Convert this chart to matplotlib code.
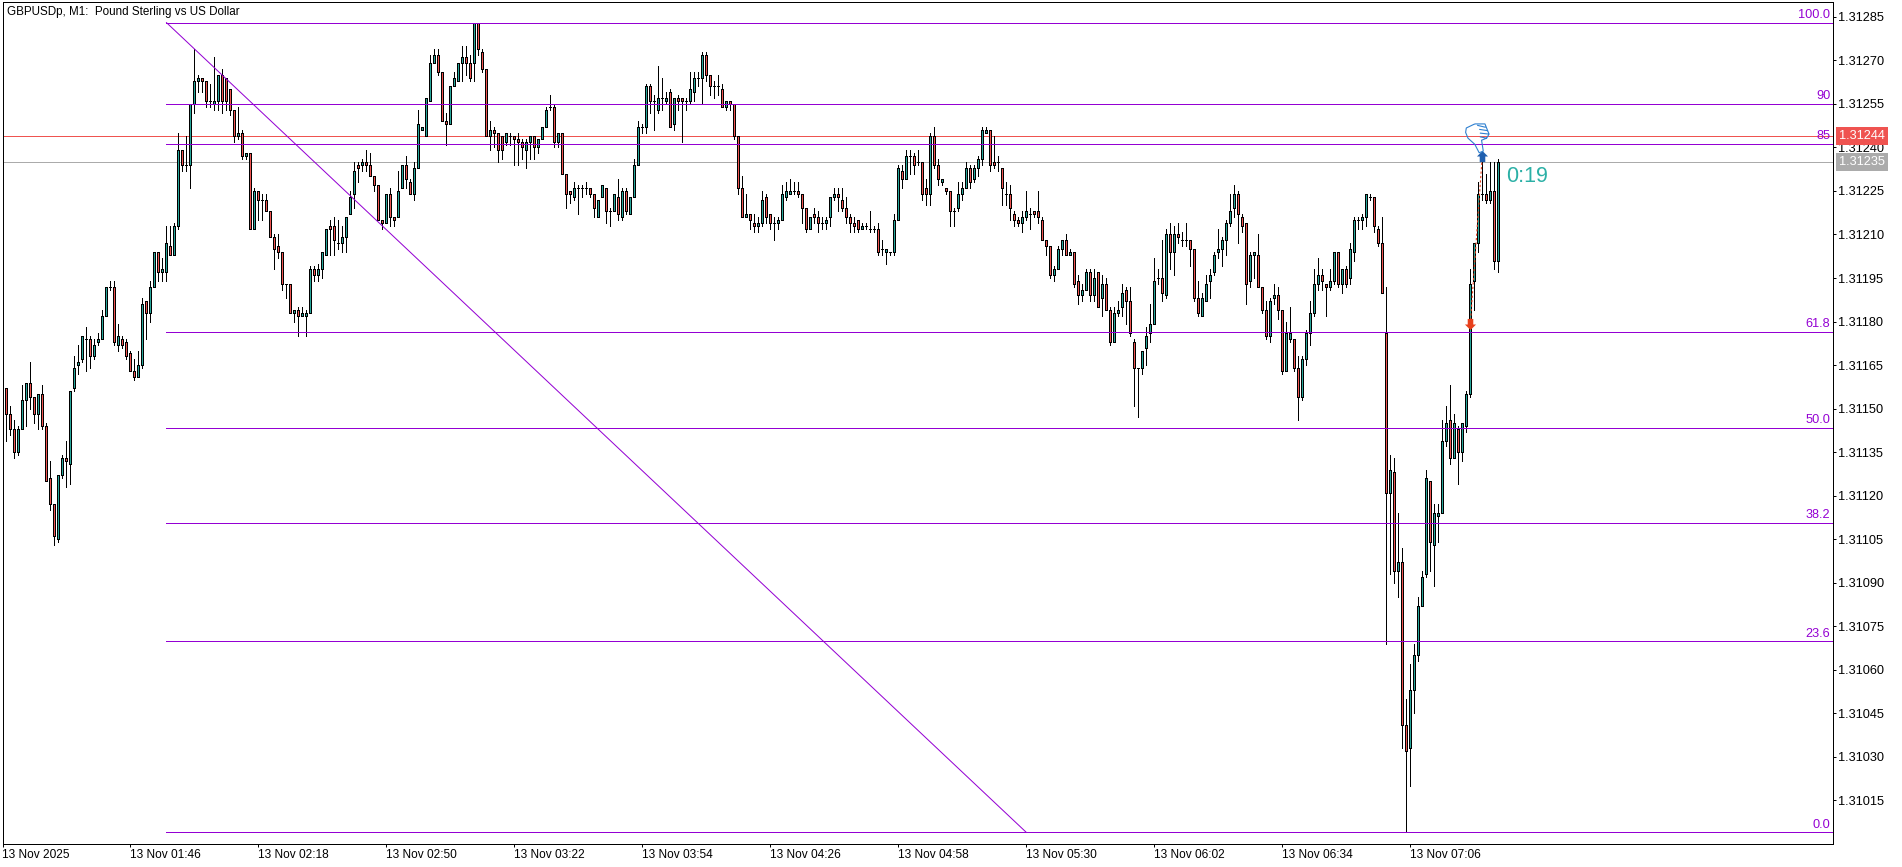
import numpy as np
import matplotlib
matplotlib.use('Agg')
import matplotlib.pyplot as plt
from matplotlib.path import Path

plt.rcParams['font.family'] = ['Liberation Sans', 'DejaVu Sans']
# the terminal draws everything without smoothing
plt.rcParams['lines.antialiased'] = False
plt.rcParams['patch.antialiased'] = False

# M1 candles, in points above 1.31000 (row = 10 bars)
opens = [158,157,148,143,135,143,153,159,154,148,
    155,144,126,117,105,127,133,131,157,165,
    167,174,174,168,173,174,182,192,192,172,
    174,173,169,163,161,165,187,183,192,204,
    197,197,206,203,213,239,234,234,255,263,
    264,263,256,255,256,265,264,260,253,244,
    245,237,238,212,225,222,222,218,209,206,
    204,193,193,183,184,182,182,183,198,196,
    198,203,213,213,207,207,209,217,224,234,
    234,235,234,230,227,215,214,224,216,216,
    226,234,228,224,233,246,244,256,269,272,
    266,249,248,261,263,269,271,269,269,283,
    273,267,244,246,245,244,242,244,244,243,
    242,239,242,244,240,243,247,254,254,242,
    245,231,225,223,226,226,226,226,224,216,
    223,226,218,218,223,216,225,217,223,234,
    247,247,261,256,253,257,256,259,248,257,
    257,256,256,259,264,264,272,265,261,261,
    260,254,256,255,244,226,216,217,214,213,
    214,223,217,214,214,215,223,224,225,225,
    224,219,212,217,216,214,214,216,223,224,
    222,219,216,214,215,212,213,212,212,212,
    205,204,204,204,215,232,229,237,237,235,
    235,226,224,244,234,228,226,225,218,219,
    224,226,233,229,233,236,245,246,235,235,
    233,224,224,217,215,214,216,217,218,218,
    215,208,206,196,198,205,208,203,204,194,
    189,191,197,189,197,188,193,184,173,183,
    185,191,187,173,164,164,171,176,179,195,
    195,189,210,204,210,208,208,208,205,188,
    182,187,194,197,204,205,208,214,219,224,
    216,214,194,203,203,192,184,175,188,189,
    184,163,174,174,164,154,167,176,183,193,
    196,193,192,194,204,193,198,195,204,215,
    215,216,223,223,212,207,176,121,128,94,
    97,41,33,53,65,82,93,125,103,113,
    114,139,146,133,143,135,144,155,194,207,
    224,224,222,225,201]
highs = [163,157,151,146,144,158,159,166,154,155,
    158,145,132,117,127,134,139,156,168,172,
    175,178,175,174,176,184,192,194,194,179,
    175,174,170,167,170,188,187,194,204,204,
    202,213,213,214,245,239,244,255,274,265,
    264,263,262,271,265,267,264,260,253,254,
    246,238,238,226,225,224,224,218,210,210,
    204,193,193,184,185,185,184,199,199,200,
    204,212,215,216,215,213,216,225,235,235,
    236,239,238,230,227,215,224,226,216,232,
    234,237,229,235,253,247,257,272,274,274,
    266,252,261,266,269,275,275,272,283,283,
    274,267,249,247,245,244,245,245,244,245,
    243,243,244,244,243,247,254,258,255,245,
    245,231,225,228,227,227,228,226,224,222,
    227,226,219,224,229,226,226,223,236,249,
    248,262,262,258,268,264,259,260,257,258,
    257,257,266,266,266,273,273,265,263,265,
    262,256,256,255,244,230,224,217,217,216,
    225,224,217,216,216,227,228,229,228,228,
    224,219,216,219,218,216,216,223,226,226,
    226,223,217,216,215,214,214,218,213,214,
    208,205,204,217,234,234,239,239,238,239,
    235,229,245,247,236,229,226,225,219,228,
    228,235,234,234,237,247,247,246,244,237,
    233,228,227,218,216,218,225,219,218,225,
    216,208,206,199,206,208,210,205,204,196,
    193,198,198,198,197,196,195,185,185,187,
    193,192,192,174,164,170,178,186,202,198,
    208,212,214,213,214,211,214,208,205,194,
    190,196,198,204,212,209,215,224,227,225,
    217,214,204,204,210,192,187,188,193,192,
    184,180,185,174,168,168,177,187,198,202,
    198,193,198,204,204,198,199,207,216,216,
    217,224,224,223,213,216,192,134,133,114,
    102,50,62,69,85,94,129,125,117,117,
    146,151,158,148,144,145,156,198,207,228,
    236,231,235,235,236]
lows = [158,139,141,133,134,143,144,150,145,143,
    143,125,115,103,104,126,123,124,156,162,
    166,163,164,167,172,174,182,191,172,170,
    171,167,163,160,161,164,174,180,192,194,
    194,194,203,203,212,232,232,226,252,259,
    259,254,254,253,253,252,253,251,242,243,
    236,236,212,212,215,215,218,209,198,202,
    191,188,183,180,175,182,175,183,194,194,
    195,203,203,203,205,204,204,217,219,228,
    232,232,230,225,215,212,214,213,213,216,
    226,226,224,222,233,246,244,256,269,265,
    249,241,248,261,263,263,265,263,263,272,
    266,244,239,240,235,236,241,241,234,234,
    236,233,236,236,238,243,247,253,240,240,
    231,219,221,222,217,223,224,223,216,216,
    223,214,213,218,215,215,217,217,223,234,
    245,245,252,246,252,253,255,247,246,253,
    242,253,255,256,261,255,263,258,257,258,
    254,253,253,243,224,216,216,212,211,211,
    213,214,212,208,212,215,222,224,224,223,
    214,211,212,214,211,212,212,213,222,218,
    218,214,211,211,211,212,212,211,211,203,
    203,200,203,203,215,226,229,231,231,234,
    222,220,220,233,227,227,224,213,213,218,
    222,226,226,228,230,234,245,232,233,232,
    220,220,215,213,213,211,215,212,216,214,
    208,203,195,194,198,203,203,203,192,186,
    187,191,187,187,185,182,184,172,173,182,
    182,179,175,151,147,162,165,173,179,193,
    187,188,198,196,207,206,206,199,187,182,
    182,187,188,196,202,199,203,213,216,207,
    211,186,192,195,192,183,174,173,186,181,
    162,163,173,163,146,153,165,172,182,191,
    191,182,191,193,192,190,192,193,201,212,
    212,213,222,211,206,190,69,93,90,85,
    33,4,20,45,63,82,92,94,89,104,
    114,137,131,133,124,132,142,154,184,204,
    222,221,221,198,197]
closes = [163,148,143,135,143,153,159,154,148,155,
    144,125,117,106,127,133,132,156,164,166,
    175,174,168,172,174,182,192,192,173,175,
    172,168,163,161,165,186,183,192,204,197,
    198,207,203,213,239,234,234,255,263,264,
    263,256,256,256,265,256,256,253,244,245,
    237,238,212,225,222,222,218,209,205,204,
    193,193,183,184,182,183,183,198,196,198,
    204,212,212,208,207,209,216,223,232,233,
    235,234,230,227,215,214,224,216,215,225,
    234,229,224,233,248,247,257,269,272,266,
    249,248,261,264,269,271,269,264,283,274,
    267,244,246,245,239,239,245,244,243,242,
    240,242,244,240,243,247,253,254,242,245,
    231,224,224,226,226,226,226,224,219,222,
    227,218,218,224,217,225,218,223,234,247,
    247,261,256,256,257,257,257,247,257,256,
    256,256,260,264,264,272,265,261,261,261,
    254,256,255,244,226,216,217,215,213,214,
    222,216,214,214,215,224,225,225,225,224,
    219,212,216,216,214,214,215,223,224,223,
    219,216,214,213,212,213,213,212,212,204,
    205,205,204,215,233,229,237,237,234,235,
    224,224,244,234,229,229,225,218,218,224,
    226,233,228,233,236,246,246,234,234,235,
    226,224,219,215,214,216,218,217,217,216,
    208,206,196,198,205,208,203,204,193,189,
    191,197,189,195,185,193,184,173,183,184,
    190,187,176,164,164,170,175,179,194,195,
    190,210,204,210,209,208,208,205,188,183,
    188,193,196,203,205,208,214,218,224,217,
    213,193,203,204,192,184,175,187,189,184,
    163,176,176,164,154,167,176,183,193,196,
    194,192,194,204,193,198,193,205,215,215,
    216,224,223,213,207,190,121,129,94,97,
    41,32,53,65,82,92,126,104,114,114,
    139,145,133,145,135,145,155,193,207,224,
    224,222,225,201,235]

price_ticks = [1.31015, 1.31030, 1.31045, 1.31060, 1.31075, 1.31090, 1.31105,
    1.31120, 1.31135, 1.31150, 1.31165, 1.31180, 1.31195, 1.31210, 1.31225,
    1.31240, 1.31255, 1.31270, 1.31285]
time_tick_bars = [0, 32, 64, 96, 128, 160, 192, 224, 256, 288, 320, 352]
time_labels = ['13 Nov 2025', '13 Nov 01:46', '13 Nov 02:18', '13 Nov 02:50',
    '13 Nov 03:22', '13 Nov 03:54', '13 Nov 04:26', '13 Nov 04:58',
    '13 Nov 05:30', '13 Nov 06:02', '13 Nov 06:34', '13 Nov 07:06']

# fibonacci tool
fib_low = 1.31004
fib_high = 1.31283
fib_levels = [0, 23.6, 38.2, 50, 61.8, 85, 90, 100]
fib_labels = ['0.0', '23.6', '38.2', '50.0', '61.8', '85', '90', '100.0']
fib_start_bar = 41
fib_end_bar = 256

ask_price = 1.31244
bid_price = 1.31235
signal_bars = [367, 370]
signal_prices = [1.31179, 1.31237]

UP_COLOR = '#26A69A'
DOWN_COLOR = '#EF5350'
FIB_COLOR = '#9400D3'
GREY = '#ABABAB'
W, H = 1902, 867
PX = 0.72  # one pixel in points at dpi 100

to_price = lambda pts: 1.31 + np.array(pts) * 1e-5
o, h, l, c = to_price(opens), to_price(highs), to_price(lows), to_price(closes)
bars = np.arange(len(o))
up = c >= o

fig = plt.figure(figsize=(W / 100, H / 100), dpi=100, facecolor='white')
ax = fig.add_axes([2.5 / W, 1 - 844 / H, (1833 - 2.5) / W, (844 - 2.3) / H])
ax.set_xlim(0.05, 457.7)
ax.set_ylim(1.31000, 1.31290)
for s in ax.spines.values():
    s.set_linewidth(PX)

# horizontal price lines sit under the candles
ax.axhline(ask_price, color=DOWN_COLOR, lw=PX, zorder=1)
ax.axhline(bid_price, color=GREY, lw=PX, zorder=1)

# candles
ax.vlines(bars, l, h, color='black', lw=PX, zorder=2, antialiased=False)
body_low = np.minimum(o, c)
body_h = np.abs(c - o)
ax.bar(bars[up], body_h[up], bottom=body_low[up], width=0.5, color=UP_COLOR,
    edgecolor='black', linewidth=PX, zorder=3)
ax.bar(bars[~up], body_h[~up], bottom=body_low[~up], width=0.5, color=DOWN_COLOR,
    edgecolor='black', linewidth=PX, zorder=3)

# fibo lines on top of candles
for lev, lab in zip(fib_levels, fib_labels):
    y = fib_low + (fib_high - fib_low) * lev / 100
    ax.plot([fib_start_bar, ax.get_xlim()[1]], [y, y], color=FIB_COLOR, lw=PX, zorder=4)
    ax.annotate(lab, xy=(1, y), xycoords=('axes fraction', 'data'), xytext=(-2, 1.2),
        textcoords='offset points', ha='right', va='bottom', color=FIB_COLOR, fontsize=9.2)
# aliased diagonals come out too heavy in agg
ax.plot([fib_start_bar, fib_end_bar], [fib_high, fib_low], color=FIB_COLOR, lw=PX,
    zorder=4, antialiased=True)

# trade arrows and dashed link
ax.plot(signal_bars, signal_prices, color='#E8401C', lw=0.8, ls=(0, (2, 2)), zorder=5, antialiased=True)
arrow_verts = [(-0.25, 0.5), (0.25, 0.5), (0.25, 0), (0.5, 0), (0, -0.5), (-0.5, 0), (-0.25, 0), (-0.25, 0.5)]
arrow_down = Path(arrow_verts)
arrow_up = Path([(x, -y) for x, y in arrow_verts])
ax.plot(signal_bars[0], signal_prices[0], marker=arrow_down, ms=8, color='#E8401C', mew=0, zorder=6, antialiased=True)
ax.plot(signal_bars[1], signal_prices[1], marker=arrow_up, ms=8, color='#1F5FAF', mew=0, zorder=6, antialiased=True)

# thumbs down icon
hand_v = [(165, 70), (195, 70), (207, 100), (200, 112), (185, 118), (190, 150), (178, 155),
    (165, 130), (145, 112), (138, 95), (140, 82), (165, 70),
    (172, 74), (197, 80), (178, 86), (204, 90), (180, 97), (207, 100), (180, 108), (200, 112)]
hand_c = [Path.MOVETO] + [Path.LINETO] * 11 + [Path.MOVETO, Path.LINETO] * 4
hand = Path([(x - 173, 110 - y) for x, y in hand_v], hand_c)
ax.plot(368.8, 1.312435, marker=hand, ms=22, mfc='none', mec='#2F80D0', mew=0.8, zorder=6, antialiased=True)

# countdown
ax.text(375.9, 1.31230, '0:19', color='#2BB0A6', fontsize=15.5, va='center', ha='left', zorder=6)

# title
fig.text(7 / W, 1 - 11.7 / H, 'GBPUSDp, M1:  Pound Sterling vs US Dollar', fontsize=8.4, va='center')

# axes ticks
ax.yaxis.tick_right()
ax.set_yticks(price_ticks)
ax.set_yticklabels([f'{p:.5f}' for p in price_ticks], fontsize=9.2)
ax.set_xticks(time_tick_bars)
ax.set_xticklabels(time_labels, fontsize=8.6, ha='left')
ax.tick_params(axis='both', length=3 * PX, width=PX, pad=1.5)

# price tags
for price, col in [(ask_price, DOWN_COLOR), (bid_price, GREY)]:
    ax.annotate(f'{price:.5f}', xy=(1, price), xycoords=('axes fraction', 'data'),
        xytext=(4.3, 0), textcoords='offset points', ha='left', va='center',
        color='white', fontsize=9.2, zorder=8,
        bbox=dict(boxstyle='square,pad=0.25', fc=col, ec='none'))

fig.savefig('out.png', dpi=100)
